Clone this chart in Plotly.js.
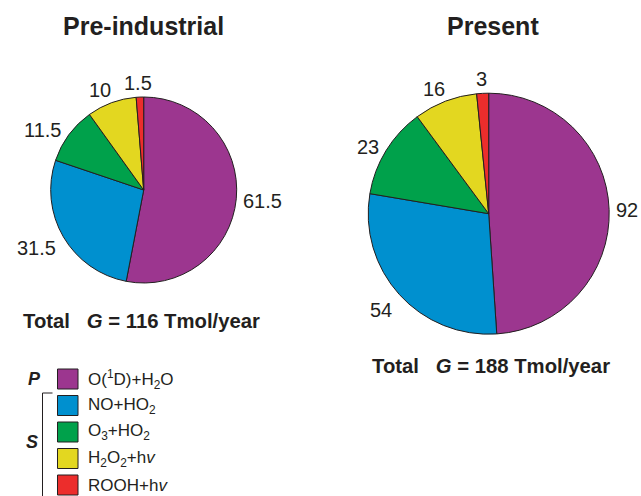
<!DOCTYPE html>
<html>
<head>
<meta charset="utf-8">
<script src="https://cdn.plot.ly/plotly-3.0.1.min.js"></script>
<style>html,body{margin:0;padding:0;background:#fff;}#chart{width:641px;height:496px;}</style>
</head>
<body>
<div id="chart"></div>
<script>
// ---- data ----
const processes = ["O(1D)+H2O", "NO+HO2", "O3+HO2", "H2O2+hv", "ROOH+hv"];
const legendLabels = ["O(<sup>1</sup>D)+H<sub>2</sub>O", "NO+HO<sub>2</sub>", "O<sub>3</sub>+HO<sub>2</sub>", "H<sub>2</sub>O<sub>2</sub>+h<i>v</i>", "ROOH+h<i>v</i>"];
const colors = ["#9C368F", "#0090CF", "#00A14B", "#E3D720", "#EC2D2C"];
const preIndustrial = [61.5, 31.5, 11.5, 10, 1.5];
const present = [92, 54, 23, 16, 3];
const totals = [116, 188];
const panelTitles = ["Pre-industrial", "Present"];
const groupLabels = ["P", "S"];

const W = 641, H = 496;
const px = x => x / W;
const py = y => 1 - y / H;
const ink = "#231f20";
const font = "Liberation Sans, Arial, Helvetica, sans-serif";
const labelSize = 20;

// pie geometry (pixels): centre and radius
const pies = [
  {values: preIndustrial, cx: 143.7, cy: 190, r: 93},
  {values: present, cx: 488.7, cy: 213.7, r: 120.5}
];

const data = pies.map(p => ({
  type: "pie",
  labels: processes,
  values: p.values,
  sort: false,
  direction: "clockwise",
  rotation: 0,
  marker: {colors: colors, line: {color: ink, width: 1}},
  textinfo: "none",
  hoverinfo: "none",
  showlegend: false,
  domain: {x: [px(p.cx - p.r), px(p.cx + p.r)], y: [py(p.cy + p.r), py(p.cy - p.r)]}
}));

const annotations = [];
// value labels just outside the rim, in the direction of each slice's middle
const textHalfWidth = s => s.split("").reduce((w, ch) => w + (ch === "." ? 0.278 : 0.556), 0) * labelSize / 2;
pies.forEach(p => {
  const sum = p.values.reduce((a, b) => a + b, 0);
  let cum = 0;
  p.values.forEach(v => {
    const th = 2 * Math.PI * (cum + v / 2) / sum;
    cum += v;
    const dx = Math.sin(th), dy = -Math.cos(th);
    const s = String(v);
    const ex = (textHalfWidth(s) + 7) * Math.max(-1, Math.min(1, 1.8 * dx));
    const ey = dy > 0 ? 23 * dy : 14 * dy * Math.abs(dy);
    annotations.push({xref: "paper", yref: "paper",
      x: px(p.cx + dx * p.r + ex), y: py(p.cy + dy * p.r + ey),
      text: s, showarrow: false, xanchor: "center", yanchor: "middle",
      font: {family: font, size: labelSize, color: ink}});
  });
});

const titleX = [143.5, 492.5];
panelTitles.forEach((t, i) => {
  annotations.push({xref: "paper", yref: "paper", x: px(titleX[i]), y: py(26), text: "<b>" + t + "</b>",
    showarrow: false, xanchor: "center", yanchor: "middle", font: {family: font, size: 25, color: ink}});
});
const totX = [141.4, 491.3], totY = [321, 366];
totals.forEach((v, i) => {
  annotations.push({xref: "paper", yref: "paper", x: px(totX[i]), y: py(totY[i]),
    text: "<b>Total\u00A0\u00A0 <i>G</i> = " + v + " Tmol/year</b>",
    showarrow: false, xanchor: "center", yanchor: "middle", font: {family: font, size: 20.3, color: ink}});
});

const shapes = [];
const rowY0 = 379, rowStep = 26.5;
legendLabels.forEach((lab, i) => {
  const cy = rowY0 + i * rowStep;
  shapes.push({type: "rect", xref: "paper", yref: "paper", x0: px(57.5), x1: px(78), y0: py(cy + 10), y1: py(cy - 10),
    fillcolor: colors[i], line: {color: ink, width: 1}});
  annotations.push({xref: "paper", yref: "paper", x: px(86), y: py(cy), text: lab, showarrow: false,
    xanchor: "left", yanchor: "middle", font: {family: font, size: 17, color: ink}});
});
annotations.push({xref: "paper", yref: "paper", x: px(34), y: py(379), text: "<b><i>" + groupLabels[0] + "</i></b>",
  showarrow: false, xanchor: "center", yanchor: "middle", font: {family: font, size: 18, color: ink}});
annotations.push({xref: "paper", yref: "paper", x: px(32), y: py(442), text: "<b><i>" + groupLabels[1] + "</i></b>",
  showarrow: false, xanchor: "center", yanchor: "middle", font: {family: font, size: 18, color: ink}});
shapes.push({type: "path", xref: "paper", yref: "paper",
  path: "M" + px(52.5) + "," + py(393) + " L" + px(42.5) + "," + py(393) + " L" + px(42.5) + "," + py(500),
  line: {color: ink, width: 1}});

const layout = {
  width: W, height: H,
  margin: {l: 0, r: 0, t: 0, b: 0},
  paper_bgcolor: "#ffffff",
  plot_bgcolor: "#ffffff",
  showlegend: false,
  annotations: annotations,
  shapes: shapes,
  font: {family: font, color: ink}
};

Plotly.newPlot("chart", data, layout, {displayModeBar: false, staticPlot: true});
</script>
</body>
</html>
